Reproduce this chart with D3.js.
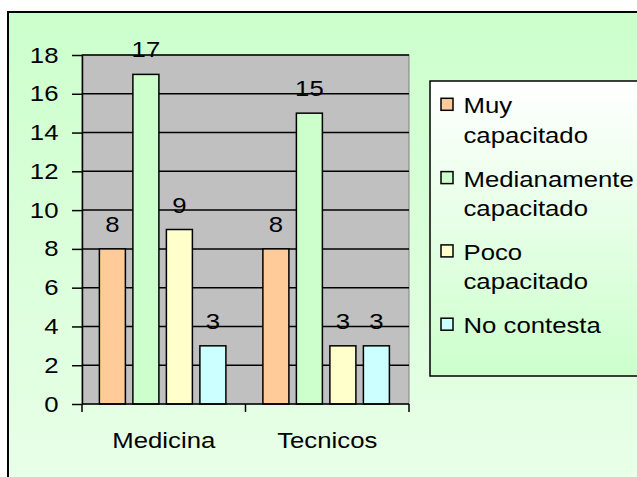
<!DOCTYPE html>
<html>
<head>
<meta charset="utf-8">
<script src="https://cdn.jsdelivr.net/npm/d3@7"></script>
<style>
  html, body { margin: 0; padding: 0; background: #ffffff; }
  svg { display: block; }
  text { font-family: "Liberation Sans", Arial, sans-serif; fill: #000; }
</style>
</head>
<body>
<svg id="chart" width="637" height="477"></svg>
<script>
// ---- data ----
const categories = ["Medicina", "Tecnicos"];
const seriesNames = ["Muy capacitado", "Medianamente capacitado", "Poco capacitado", "No contesta"];
const legendLines = [["Muy", "capacitado"], ["Medianamente", "capacitado"], ["Poco", "capacitado"], ["No contesta"]];
const muyCapacitado = [8, 8];
const medianamenteCapacitado = [17, 15];
const pocoCapacitado = [9, 3];
const noContesta = [3, 3];
const yTicks = [0, 2, 4, 6, 8, 10, 12, 14, 16, 18];
const seriesColors = ["#FFCC99", "#CCFFCC", "#FFFFCC", "#CCFFFF"];

const seriesValues = [muyCapacitado, medianamenteCapacitado, pocoCapacitado, noContesta];

const svg = d3.select("#chart");
const SX = 1.17;   // horizontal text stretch
const FS = 22;

const defs = svg.append("defs");
const g1 = defs.append("linearGradient").attr("id", "bgGrad").attr("x1", 0).attr("y1", 0).attr("x2", 0).attr("y2", 1);
g1.append("stop").attr("offset", 0).attr("stop-color", "#CCFFCC");
g1.append("stop").attr("offset", 1).attr("stop-color", "#EAFFEA");
const g2 = defs.append("linearGradient").attr("id", "legGrad").attr("x1", 0).attr("y1", 0).attr("x2", 0).attr("y2", 1);
g2.append("stop").attr("offset", 0).attr("stop-color", "#FFFFFF");
g2.append("stop").attr("offset", 1).attr("stop-color", "#CCFFCC");

// chart area background
svg.append("rect").attr("x", 8).attr("y", 12).attr("width", 660).attr("height", 500)
  .attr("fill", "url(#bgGrad)").attr("stroke", "#000").attr("stroke-width", 2);

// scales
const plot = { left: 82, right: 409, top: 55, bottom: 404 };
const y = d3.scaleLinear().domain([0, 18]).range([plot.bottom, plot.top]);
const x0 = d3.scaleBand().domain(categories).range([plot.left, plot.right]).padding(0);
const x1 = d3.scaleBand().domain(seriesNames).range([0, x0.bandwidth()])
  .paddingInner(0.224).paddingOuter(0.552).align(0.47);

// plot area
svg.append("rect").attr("x", plot.left).attr("y", plot.top)
  .attr("width", plot.right - plot.left).attr("height", plot.bottom - plot.top)
  .attr("fill", "#C0C0C0").attr("stroke", "#808080").attr("stroke-width", 1);

// gridlines
svg.append("g").selectAll("line").data(yTicks.filter(d => d > 0)).join("line")
  .attr("x1", plot.left).attr("x2", plot.right)
  .attr("y1", d => y(d)).attr("y2", d => y(d))
  .attr("stroke", "#000").attr("stroke-width", 1.5);

// bars
const groups = svg.append("g").selectAll("g").data(categories).join("g")
  .attr("transform", d => `translate(${x0(d)},0)`);
groups.each(function (cat, ci) {
  const gg = d3.select(this);
  seriesNames.forEach((s, si) => {
    const v = seriesValues[si][ci];
    gg.append("rect")
      .attr("x", x1(s)).attr("y", y(v))
      .attr("width", x1.bandwidth()).attr("height", y(0) - y(v))
      .attr("fill", seriesColors[si]).attr("stroke", "#000").attr("stroke-width", 1.5);
    gg.append("text")
      .attr("transform", `translate(${x1(s) + x1.bandwidth() / 2},${y(v) - 17}) scale(${SX},1)`)
      .attr("text-anchor", "middle").attr("font-size", FS).text(v);
  });
});

// y axis
const yAxis = d3.axisLeft(y).tickValues(yTicks).tickSizeInner(10).tickSizeOuter(0).tickPadding(13.5);
const yg = svg.append("g").attr("transform", `translate(${plot.left},0)`).call(yAxis);
yg.select(".domain").attr("stroke", "#000").attr("stroke-width", 1.5);
yg.selectAll(".tick line").attr("stroke", "#000").attr("stroke-width", 1.5);
yg.selectAll(".tick text").attr("font-size", FS).attr("font-family", "Liberation Sans, Arial, sans-serif")
  .attr("x", -23.5 / SX).attr("transform", `scale(${SX},1)`).attr("fill", "#000");

// x axis line & boundary ticks
svg.append("line").attr("x1", plot.left).attr("x2", plot.right)
  .attr("y1", y(0)).attr("y2", y(0)).attr("stroke", "#000").attr("stroke-width", 1.5);
const bounds = categories.map(c => x0(c)).concat([x0(categories[categories.length - 1]) + x0.bandwidth()]);
svg.append("g").selectAll("line").data(bounds).join("line")
  .attr("x1", d => d).attr("x2", d => d)
  .attr("y1", y(0)).attr("y2", y(0) + 8)
  .attr("stroke", "#000").attr("stroke-width", 1.5);
svg.append("g").selectAll("text").data(categories).join("text")
  .attr("transform", d => `translate(${x0(d) + x0.bandwidth() / 2},447.5) scale(${SX},1)`)
  .attr("text-anchor", "middle").attr("font-size", FS).text(d => d);

// legend
const leg = svg.append("g");
leg.append("rect").attr("x", 430).attr("y", 81).attr("width", 240).attr("height", 295)
  .attr("fill", "url(#legGrad)").attr("stroke", "#000").attr("stroke-width", 1.5);
const itemY0 = 113.3, itemStep = 73.3, lineStep = 29.5;
legendLines.forEach((lines, i) => {
  const by = itemY0 + i * itemStep;
  leg.append("rect").attr("x", 441).attr("y", by - 15).attr("width", 12).attr("height", 12)
    .attr("fill", seriesColors[i]).attr("stroke", "#000").attr("stroke-width", 1.5);
  lines.forEach((ln, j) => {
    leg.append("text")
      .attr("transform", `translate(463.5,${by + j * lineStep}) scale(${SX},1)`)
      .attr("font-size", FS).text(ln);
  });
});
</script>
</body>
</html>
